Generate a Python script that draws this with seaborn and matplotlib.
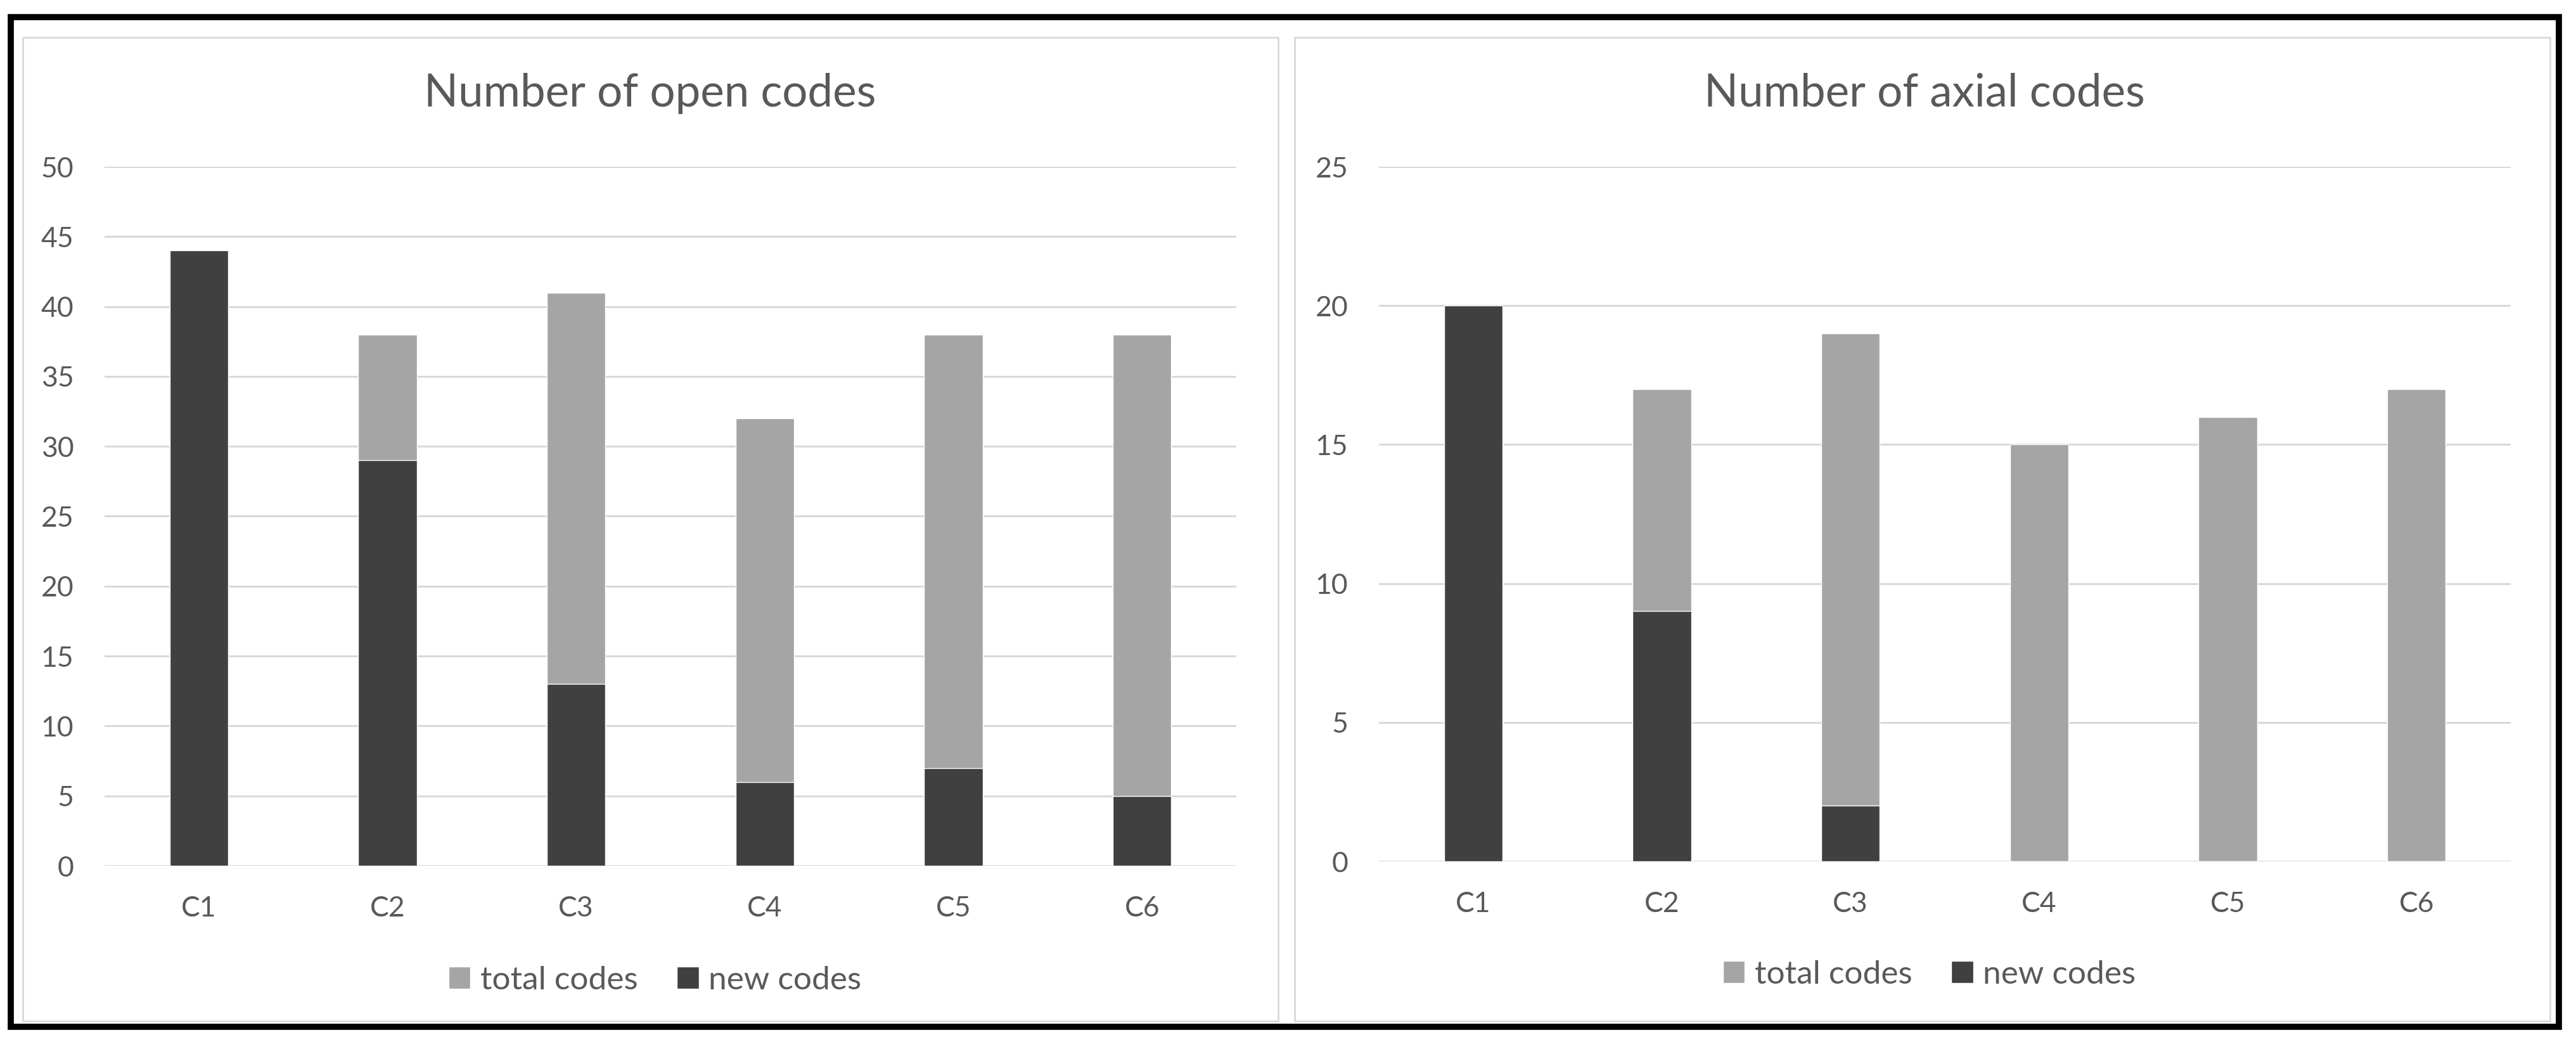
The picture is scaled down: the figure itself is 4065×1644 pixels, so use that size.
import matplotlib
matplotlib.use('Agg')
import matplotlib.pyplot as plt
from matplotlib.patches import Rectangle, Patch
import seaborn as sns

'''
Two overlapping bar charts: total vs. new codes per coding round.
'''

categories = ['C1', 'C2', 'C3', 'C4', 'C5', 'C6']

open_total = [44, 38, 41, 32, 38, 38]
open_new = [44, 29, 13, 6, 7, 5]

axial_total = [20, 17, 19, 15, 16, 17]
axial_new = [20, 9, 2, 0, 0, 0]

open_ticks = [0, 5, 10, 15, 20, 25, 30, 35, 40, 45, 50]
axial_ticks = [0, 5, 10, 15, 20, 25]

LIGHT = '#A5A5A5'
DARK = '#404040'
GRID = '#D9D9D9'
TEXT = '#595959'

sns.set_theme(style='white')
plt.rcParams['font.family'] = ['Lato', 'DejaVu Sans']

W, H = 4066, 1644


def px(x, y):
    # full-pixel coords (top-left origin) -> figure fractions
    return x / W, 1 - y / H


def draw_panel(fig, rect, title, total, new, ticks, legend_y):
    ax = fig.add_axes(rect)
    sns.barplot(x=categories, y=total, color=LIGHT, width=0.31,
                saturation=1, ax=ax)
    sns.barplot(x=categories, y=new, color=DARK, width=0.31,
                saturation=1, ax=ax)
    ax.set_ylim(0, ticks[-1])
    ax.set_xlim(-0.5, len(categories) - 0.5)
    ax.set_yticks(ticks)
    ax.yaxis.grid(True, color=GRID, linewidth=2.2)
    ax.set_axisbelow(True)
    for spine in ax.spines.values():
        spine.set_visible(False)
    ax.tick_params(axis='both', length=0, labelsize=32, labelcolor=TEXT)
    ax.tick_params(axis='x', pad=34)
    ax.tick_params(axis='y', pad=35)
    ax.set_xlabel('')
    ax.set_ylabel('')

    center_x = rect[0] + rect[2] / 2
    fig.text(center_x - 0.008, px(0, 147)[1], title, ha='center',
             va='center', fontsize=51, color=TEXT)

    handles = [Patch(facecolor=LIGHT, label='total codes'),
               Patch(facecolor=DARK, label='new codes')]
    ax.legend(handles=handles, loc='center',
              bbox_to_anchor=(center_x - 0.006, legend_y),
              bbox_transform=fig.transFigure,
              ncol=2, frameon=False, fontsize=37, labelcolor=TEXT,
              handlelength=0.67, handleheight=0.67, handletextpad=0.3,
              columnspacing=1.2)
    return ax


fig = plt.figure(figsize=(W / 100, H / 100), dpi=100)
fig.patch.set_facecolor('white')

# panel frames
for x0, x1 in [(36, 2017), (2043, 4024)]:
    fx0, fy1 = px(x0, 59)
    fx1, fy0 = px(x1, 1611)
    fig.patches.append(Rectangle((fx0, fy0), fx1 - fx0, fy1 - fy0,
                                 transform=fig.transFigure, fill=False,
                                 edgecolor=GRID, linewidth=2))

# outer black frame
fx0, fy1 = px(17, 27)
fx1, fy0 = px(4038, 1620)
fig.patches.append(Rectangle((fx0, fy0), fx1 - fx0, fy1 - fy0,
                             transform=fig.transFigure, fill=False,
                             edgecolor='black', linewidth=7))

left_rect = [165 / W, 1 - 1366 / H, 1786 / W, (1366 - 263) / H]
right_rect = [2176 / W, 1 - 1359 / H, 1786 / W, (1359 - 263) / H]

draw_panel(fig, left_rect, 'Number of open codes', open_total, open_new,
           open_ticks, 1 - 1547 / H)
draw_panel(fig, right_rect, 'Number of axial codes', axial_total, axial_new,
           axial_ticks, 1 - 1538 / H)

fig.savefig('out.png', dpi=100, facecolor='white')
